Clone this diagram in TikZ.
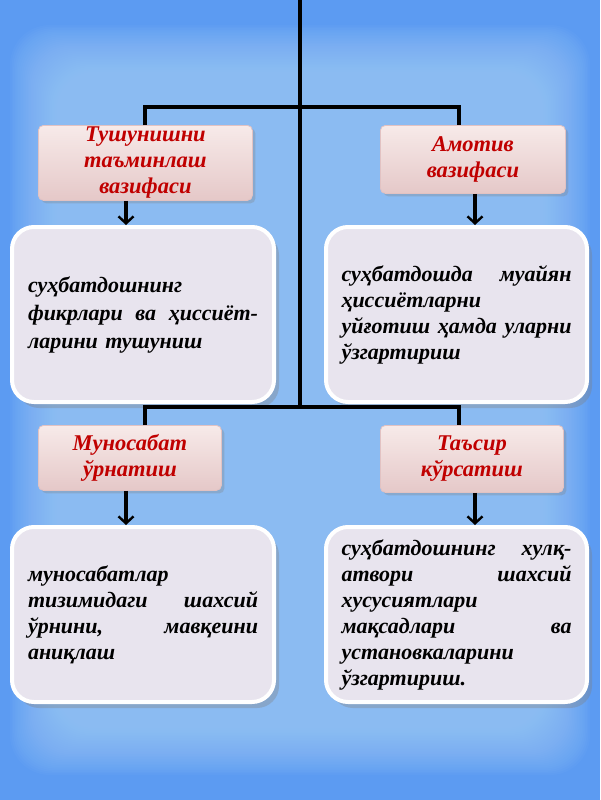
\documentclass[tikz,border=0pt]{standalone}
\usepackage{fontspec}
\setmainfont{Liberation Serif}
\usetikzlibrary{arrows.meta,shadows}
\definecolor{bgout}{HTML}{5C9BF2}
\definecolor{bglight}{HTML}{A9D2F9}
\definecolor{labtop}{HTML}{F7EAE9}
\definecolor{labbot}{HTML}{E5C8C8}
\definecolor{labedge}{HTML}{E2C2C2}
\definecolor{labtext}{HTML}{C00000}
\definecolor{boxfill}{HTML}{E8E4EE}
\tikzset{
  labbox/.style={anchor=north west, inner sep=0pt, rounded corners=5pt,
    top color=labtop, bottom color=labbot, draw=labedge, line width=0.8pt,
    drop shadow={opacity=0.3, shadow xshift=3pt, shadow yshift=-3pt},
    align=center, text=labtext, font=\fontsize{22.5}{26}\selectfont\bfseries\itshape},
  conbox/.style={anchor=north west, inner sep=0pt, rounded corners=22pt,
    fill=boxfill, draw=white, line width=4pt,
    drop shadow={opacity=0.35, shadow xshift=5pt, shadow yshift=-6pt},
    text width=230pt, text=black, font=\fontsize{22}{26}\selectfont\bfseries\itshape},
  conn/.style={line width=3.4pt, black},
  arr/.style={line width=3.4pt, black, -{Straight Barb[length=7pt,width=15pt,line width=2.4pt]}}
}
\begin{document}
\begin{tikzpicture}[x=1pt,y=-1pt]
\useasboundingbox (0,0) rectangle (600,800);
\fill[bgout] (0,0) rectangle (600,800);
\foreach \i in {0,...,29}
  \fill[bglight, opacity=0.045, rounded corners=40pt]
    (10+1.6*\i, 25+1.6*\i) rectangle (590-1.6*\i, 775-1.6*\i);

% label boxes
\node[labbox, minimum width=214pt, minimum height=75pt] (l1) at (38,125)
  {Тушунишни\\таъминлаш\\вазифаси};
\node[labbox, minimum width=185pt, minimum height=68pt] (l2) at (380,125)
  {Амотив\\вазифаси};
\node[labbox, minimum width=183pt, minimum height=65pt] (l3) at (38,425)
  {Муносабат\\ўрнатиш};
\node[labbox, minimum width=183pt, minimum height=67pt] (l4) at (380,425)
  {Таъсир\\кўрсатиш};

% content boxes
\node[conbox, minimum width=262pt, minimum height=175pt, font=\fontsize{22}{28}\selectfont\bfseries\itshape] (c1) at (10,225)
  {суҳбатдошнинг\\ фикрлари\hfill ва\hfill ҳиссиёт-\\ ларини тушуниш};
\node[conbox, minimum width=261pt, minimum height=175pt] (c2) at (324,225)
  {суҳбатдошда\hfill муайян\\ ҳиссиётларни\\ уйғотиш\hfill ҳамда\hfill уларни\\ ўзгартириш};
\node[conbox, minimum width=262pt, minimum height=175pt] (c3) at (10,525)
  {муносабатлар\\ тизимидаги\hfill шахсий\\ ўрнини,\hfill мавқеини\\ аниқлаш};
\node[conbox, minimum width=261pt, minimum height=175pt] (c4) at (324,525)
  {суҳбатдошнинг\hfill хулқ-\\ атвори\hfill шахсий\\ хусусиятлари\\ мақсадлари\hfill ва\\ установкаларини\\ ўзгартириш.};

% connector coordinates
\coordinate (top) at (300,0);
\coordinate (j1) at (300,107);
\coordinate (j2) at (300,407);
\coordinate (bl) at (145,0);
\coordinate (br) at (459,0);
\coordinate (al) at (126,0);
\coordinate (ar) at (475,0);

\draw[conn] (top) -- (j2);
\draw[conn] (l1.north -| bl) |- (j1) -| (l2.north -| br);
\draw[conn] (l3.north -| bl) |- (j2) -| (l4.north -| br);

\draw[arr] (l1.south -| al) -- (c1.north -| al);
\draw[arr] (l2.south -| ar) -- (c2.north -| ar);
\draw[arr] (l3.south -| al) -- (c3.north -| al);
\draw[arr] (l4.south -| ar) -- (c4.north -| ar);
\end{tikzpicture}
\end{document}
